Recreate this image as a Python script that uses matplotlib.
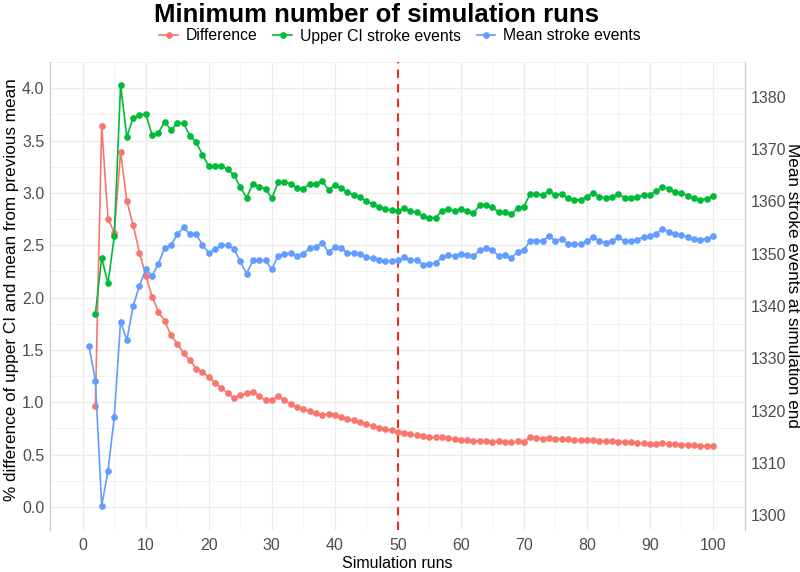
import numpy as np
import matplotlib.pyplot as plt
from matplotlib.lines import Line2D

plt.rcParams['font.family'] = ['Liberation Sans', 'DejaVu Sans']

runs = np.arange(1, 101)

# % difference of upper CI and mean from previous mean (starts at run 2)
difference = [0.967, 3.64, 2.755, 2.62, 3.39, 2.92, 2.69, 2.43, 2.21,
              2.01, 1.866, 1.775, 1.64, 1.56, 1.47, 1.40, 1.32, 1.285, 1.24,
              1.185, 1.138, 1.086, 1.043, 1.068, 1.085, 1.10, 1.059, 1.02, 1.02,
              1.059, 1.02, 0.983, 0.958, 0.933, 0.917, 0.895, 0.879, 0.892, 0.879,
              0.858, 0.842, 0.826, 0.807, 0.791, 0.775, 0.759, 0.744, 0.731, 0.718,
              0.706, 0.693, 0.684, 0.681, 0.668, 0.665, 0.665, 0.656, 0.649, 0.643,
              0.637, 0.633, 0.633, 0.627, 0.624, 0.627, 0.624, 0.621, 0.627, 0.624,
              0.668, 0.656, 0.653, 0.656, 0.653, 0.649, 0.649, 0.640, 0.637, 0.637,
              0.637, 0.633, 0.627, 0.627, 0.624, 0.624, 0.621, 0.611, 0.608, 0.602,
              0.602, 0.608, 0.602, 0.602, 0.596, 0.592, 0.592, 0.586, 0.58, 0.58]

# upper CI of stroke events (starts at run 2)
upper_ci = [1338.5, 1349.2, 1344.3, 1353.3, 1382.2, 1372.3, 1376.0, 1376.5, 1376.7,
            1372.7, 1373.1, 1375.2, 1373.6, 1374.9, 1374.9, 1372.5, 1371.3, 1368.9, 1366.7,
            1366.7, 1366.8, 1366.1, 1365.0, 1362.7, 1360.7, 1363.4, 1362.8, 1362.4, 1360.6,
            1363.6, 1363.6, 1363.4, 1362.5, 1362.4, 1363.3, 1363.4, 1363.9, 1362.2, 1363.1,
            1362.5, 1361.7, 1361.2, 1360.8, 1360.0, 1359.5, 1358.9, 1358.6, 1358.3, 1358.2,
            1358.7, 1358.1, 1357.9, 1357.1, 1356.9, 1356.9, 1358.2, 1358.6, 1358.1, 1358.6,
            1358.1, 1357.8, 1359.2, 1359.3, 1358.9, 1357.9, 1358.0, 1357.5, 1358.7, 1359.0,
            1361.4, 1361.4, 1361.2, 1362.0, 1361.2, 1361.4, 1360.6, 1360.3, 1360.3, 1360.9,
            1361.6, 1360.9, 1360.6, 1360.9, 1361.4, 1360.7, 1360.7, 1360.8, 1361.2, 1361.3,
            1361.9, 1362.8, 1362.4, 1361.7, 1361.6, 1361.1, 1360.7, 1360.3, 1360.5, 1361.0]

# mean stroke events
mean_events = [1332.3, 1325.7, 1301.8, 1308.4, 1318.8, 1337.0, 1333.5, 1340.0, 1343.9, 1347.0,
               1345.7, 1348.1, 1351.1, 1351.6, 1353.7, 1355.0, 1353.7, 1353.7, 1351.7, 1350.1,
               1350.8, 1351.6, 1351.6, 1350.9, 1348.5, 1346.2, 1348.7, 1348.7, 1348.7, 1347.0,
               1349.6, 1350.0, 1350.1, 1349.6, 1350.0, 1351.0, 1351.3, 1352.1, 1350.3, 1351.3,
               1351.0, 1350.2, 1350.1, 1350.0, 1349.4, 1349.1, 1348.7, 1348.6, 1348.6, 1348.7,
               1349.3, 1348.8, 1348.7, 1347.9, 1348.0, 1348.2, 1349.3, 1349.7, 1349.6, 1350.0,
               1349.7, 1349.5, 1350.6, 1351.0, 1350.6, 1349.6, 1349.8, 1349.2, 1350.3, 1350.6,
               1352.5, 1352.5, 1352.5, 1353.3, 1352.5, 1352.8, 1351.9, 1351.8, 1351.8, 1352.4,
               1353.2, 1352.4, 1352.1, 1352.5, 1353.1, 1352.4, 1352.4, 1352.7, 1353.2, 1353.3,
               1353.8, 1354.7, 1354.2, 1353.7, 1353.6, 1353.2, 1352.8, 1352.7, 1352.8, 1353.3]

cutoff = 50

red = '#F8766D'
green = '#00BA38'
blue = '#619CFF'

fig = plt.figure(figsize=(8, 5.72), dpi=100)
ax = fig.add_axes([0.0625, 0.0734, 0.8688, 0.8182])
ax2 = ax.twinx()

ylo, yhi = -0.22, 4.23
ax.set_ylim(ylo, yhi)
# secondary axis: events = 1301.6 + 20.1 * pct
ax2.set_ylim(1301.6 + 20.1 * ylo, 1301.6 + 20.1 * yhi)
ax.set_xlim(-5.2, 105.1)

ax.set_xticks(np.arange(0, 101, 10))
ax.set_xticks(np.arange(5, 101, 10), minor=True)
ax.set_yticks(np.arange(0, 4.01, 0.5))
ax.set_yticks(np.arange(0.25, 4.3, 0.5), minor=True)
ax.set_yticklabels(['%.1f' % v for v in np.arange(0, 4.01, 0.5)])
ax2.set_yticks(np.arange(1300, 1381, 10))

ax.grid(True, which='major', color='#EBEBEB', lw=1.0)
ax.grid(True, which='minor', color='#F2F2F2', lw=0.7)
ax.set_axisbelow(True)

for a in (ax, ax2):
    a.tick_params(which='both', length=0, labelsize=11.5, labelcolor='#4D4D4D')
    a.spines['top'].set_visible(False)
    a.spines['bottom'].set_visible(False)
    a.spines['left'].set_color('#C8C8C8')
    a.spines['right'].set_color('#C8C8C8')
ax.tick_params(axis='x', pad=6)
ax.tick_params(axis='y', pad=4)
ax2.tick_params(axis='y', pad=4)

ax.axvline(cutoff, color='#E8302A', ls=(0, (4, 3)), lw=1.5, zorder=1)

ax.plot(runs[1:], difference, color=red, lw=1.2, marker='o', ms=3.8, zorder=3)
ax2.plot(runs[1:], upper_ci, color=green, lw=1.2, marker='o', ms=3.8)
ax2.plot(runs, mean_events, color=blue, lw=1.2, marker='o', ms=3.8)

ax.set_xlabel('Simulation runs', fontsize=11.5, labelpad=2)
fig.text(12 / 800, 1 - 290 / 572, '% difference of upper CI and mean from previous mean',
         rotation=90, ha='center', va='center', fontsize=12.3)
fig.text(792 / 800, 1 - 285 / 572, 'Mean stroke events at simulation end',
         rotation=270, ha='center', va='center', fontsize=12.3)

fig.text(0.47, 1 - 15 / 572, 'Minimum number of simulation runs',
         ha='center', va='center', fontsize=18.5, fontweight='bold')

handles = [Line2D([], [], color=c, lw=1.2, marker='o', ms=3.8) for c in (red, green, blue)]
fig.legend(handles, ['Difference', 'Upper CI stroke events', 'Mean stroke events'],
           loc='center', bbox_to_anchor=(0.5, 1 - 36 / 572), ncol=3, frameon=False,
           fontsize=11.3, handlelength=1.2, handletextpad=0.5, columnspacing=1.0)

fig.savefig('out.png', dpi=100)
